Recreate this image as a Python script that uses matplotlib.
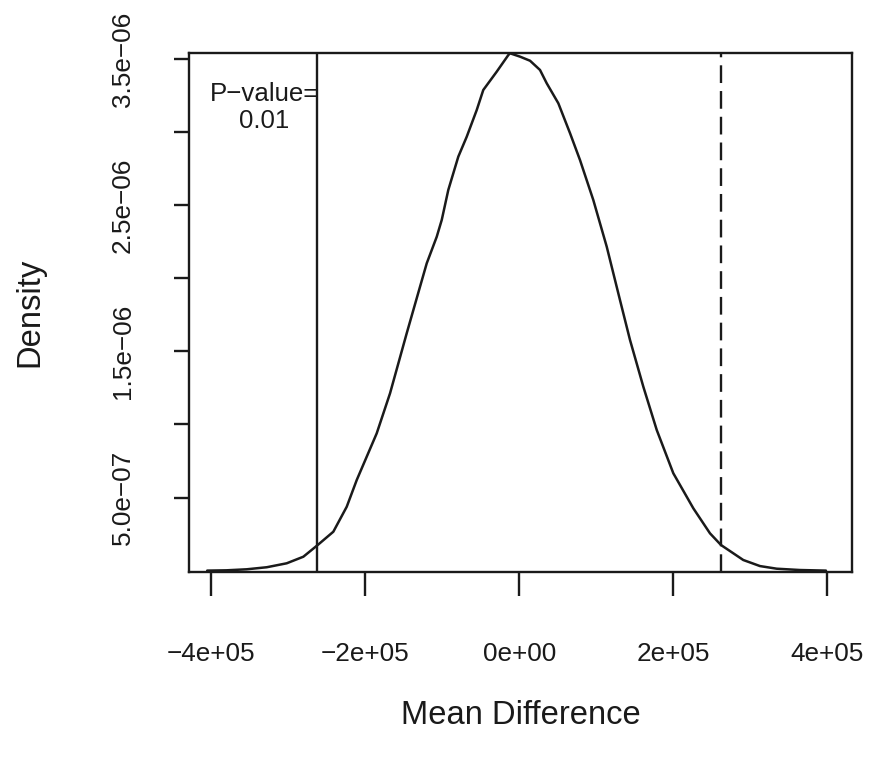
import matplotlib
matplotlib.use("Agg")
import matplotlib.pyplot as plt

plt.rcParams["font.family"] = ["Liberation Sans", "DejaVu Sans"]

# Permutation distribution of the mean difference (kernel density estimate)
mean_diff = [-4.05e5, -3.80e5, -3.537e5, -3.277e5, -3.018e5, -2.802e5, -2.616e5,
             -2.413e5, -2.239e5, -2.109e5, -1.850e5, -1.677e5, -1.461e5, -1.288e5,
             -1.201e5, -1.071e5, -1.006e5, -0.921e5, -0.791e5, -0.682e5, -0.552e5,
             -0.467e5, -0.293e5, -0.142e5, -0.120e5, 0.010e5, 0.140e5, 0.269e5,
             0.356e5, 0.507e5, 0.659e5, 0.788e5, 0.961e5, 1.135e5, 1.307e5,
             1.437e5, 1.610e5, 1.784e5, 1.999e5, 2.259e5, 2.475e5, 2.618e5,
             2.907e5, 3.124e5, 3.341e5, 3.643e5, 3.98e5]
density = [0.0, 0.002e-6, 0.009e-6, 0.023e-6, 0.050e-6, 0.095e-6, 0.175e-6,
           0.266e-6, 0.437e-6, 0.620e-6, 0.939e-6, 1.213e-6, 1.623e-6, 1.942e-6,
           2.102e-6, 2.284e-6, 2.399e-6, 2.604e-6, 2.832e-6, 2.968e-6, 3.151e-6,
           3.288e-6, 3.413e-6, 3.527e-6, 3.539e-6, 3.516e-6, 3.488e-6, 3.425e-6,
           3.334e-6, 3.197e-6, 2.992e-6, 2.809e-6, 2.535e-6, 2.216e-6, 1.851e-6,
           1.578e-6, 1.258e-6, 0.962e-6, 0.666e-6, 0.426e-6, 0.255e-6, 0.175e-6,
           0.0725e-6, 0.031e-6, 0.013e-6, 0.004e-6, 0.0]

observed_diff = -2.62e5      # observed statistic (solid line)
mirrored_diff = 2.62e5       # its mirror image (dashed line)
p_value_text = "P\u2212value=\n0.01"

x_ticks = [-4e5, -2e5, 0, 2e5, 4e5]
x_tick_labels = ["\u22124e+05", "\u22122e+05", "0e+00", "2e+05", "4e+05"]
y_ticks = [5e-7, 1e-6, 1.5e-6, 2e-6, 2.5e-6, 3e-6, 3.5e-6]
y_tick_labels = ["5.0e\u221207", "", "1.5e\u221206", "", "2.5e\u221206", "", "3.5e\u221206"]

ink = "#1a1a1a"

fig = plt.figure(figsize=(8.69, 7.61), dpi=100)
ax = fig.add_axes([189 / 869, 1 - 571.7 / 761, (852 - 189) / 869, (571.7 - 53) / 761])

ax.plot(mean_diff, density, color=ink, lw=1.8, solid_joinstyle="round",
        solid_capstyle="round")
ax.axvline(observed_diff, color=ink, lw=1.7)
ax.axvline(mirrored_diff, color=ink, lw=1.7, linestyle=(0, (7.5, 3.4)))

ax.text(-3.31e5, 3.17e-6, p_value_text, ha="center", va="center",
        fontsize=18.6, linespacing=1.18, color=ink)

ax.set_xlim(-4.286e5, 4.318e5)
ax.set_ylim(-0.0075e-6, 3.541e-6)

ax.set_xticks(x_ticks)
ax.set_xticklabels(x_tick_labels, fontsize=18.8, color=ink)
ax.set_yticks(y_ticks)
ax.set_yticklabels(y_tick_labels, fontsize=18.8, rotation=90, va="center", color=ink)

ax.tick_params(axis="x", length=17.3, width=1.7, pad=33, color=ink)
ax.tick_params(axis="y", length=11.0, width=1.7, pad=28, color=ink)

for sp in ax.spines.values():
    sp.set_linewidth(1.7)
    sp.set_color(ink)

fig.text(520.5 / 869, 1 - 716 / 761, "Mean Difference", ha="center", va="center",
         fontsize=23.6, color=ink)
fig.text(30 / 869, 1 - 312.5 / 761, "Density", ha="center", va="center",
         rotation=90, fontsize=23.6, color=ink)

fig.savefig("out.png", dpi=100)
